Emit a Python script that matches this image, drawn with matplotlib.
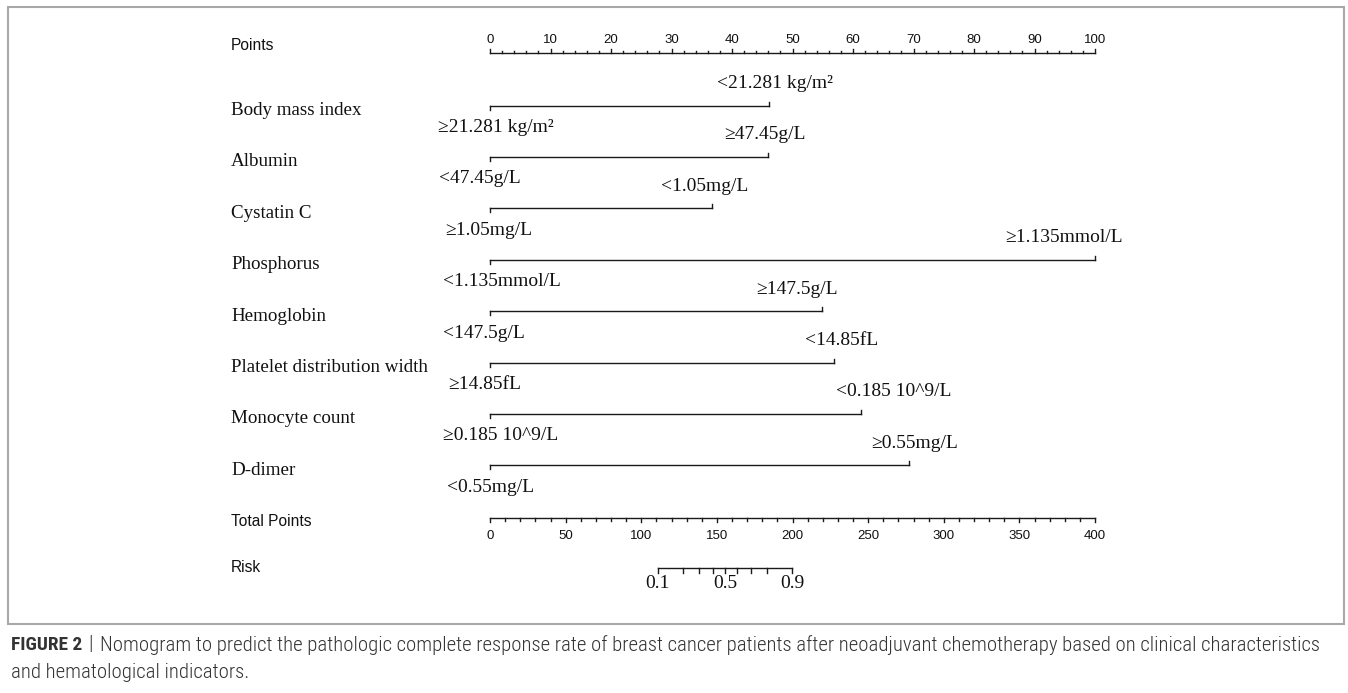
import numpy as np
import matplotlib
matplotlib.use("Agg")
import matplotlib.pyplot as plt
from matplotlib import font_manager
from matplotlib.patches import Rectangle

# nomogram content
variables = ["Body mass index", "Albumin", "Cystatin C", "Phosphorus", "Hemoglobin",
             "Platelet distribution width", "Monocyte count", "D-dimer"]
zero_labels = ["≥21.281 kg/m²", "<47.45g/L", "≥1.05mg/L", "<1.135mmol/L",
               "<147.5g/L", "≥14.85fL", "≥0.185 10^9/L", "<0.55mg/L"]
top_labels = ["<21.281 kg/m²", "≥47.45g/L", "<1.05mg/L", "≥1.135mmol/L",
              "≥147.5g/L", "<14.85fL", "<0.185 10^9/L", "≥0.55mg/L"]
top_points = [46.1, 45.9, 36.7, 100.0, 54.9, 56.9, 61.4, 69.3]

points_ticks = np.arange(0, 101, 10)
total_ticks = np.arange(0, 401, 50)
risk_ticks = [0.1, 0.2, 0.3, 0.4, 0.5, 0.6, 0.7, 0.8, 0.9]
risk_labels = ["0.1", "", "", "", "0.5", "", "", "", "0.9"]
# linear predictor: total points at risk 0.5 and total points per logit unit
risk_center_total = 155.4
total_per_logit = 20.24

caption_bold = "FIGURE 2"
caption_line1 = ("Nomogram to predict the pathologic complete response rate of breast cancer "
                 "patients after neoadjuvant chemotherapy based on clinical characteristics")
caption_line2 = "and hematological indicators."

# label placement tweaks (pixels), as the nomogram placed them
top_shift = [6, -3, -7, -31, -25, 7, 32, 5]
zero_left = [438, 439, 445, 443, 443, 448, 443, 447]

W, H = 1348, 693
x0_px, x100_px = 490, 1095
px_per_point = (x100_px - x0_px) / 100.0

serif = "Liberation Serif"
sans = "Liberation Sans"

# look for a condensed sans for the caption
narrow = sans
names = set(font_manager.get_font_names())
for cand in ["Liberation Sans Narrow", "Roboto Condensed", "DejaVu Sans Condensed",
             "Open Sans Condensed", "Noto Sans Condensed"]:
    if cand in names:
        narrow = cand
        break

fig = plt.figure(figsize=(W / 100, H / 100), dpi=100)
ax = fig.add_axes([0, 0, 1, 1])
ax.set_xlim(-x0_px / px_per_point, (W - x0_px) / px_per_point)
ax.set_ylim(H, 0)
ax.axis("off")

lc = "#1a1a1a"
lw = 1.0
tc = "#111111"


def px(n):
    # pixel offset -> points units
    return n / px_per_point


name_x = px(231 - x0_px)

# Points axis
y_pts = 53
ax.plot([0, 100], [y_pts, y_pts], color=lc, lw=lw)
for v in np.arange(0, 101, 2):
    ln = 4.5 if v % 10 == 0 else 2.5
    ax.plot([v, v], [y_pts, y_pts - ln], color=lc, lw=lw)
for v in points_ticks:
    ax.text(v, 40, str(v), ha="center", va="center", fontsize=9.5, family=sans, color=tc)
ax.text(name_x, 46, "Points", ha="left", va="center", fontsize=11.2, family=sans, color=tc)

# variable rows
row0, row_step = 105.5, 51.4
for i, name in enumerate(variables):
    y = row0 + i * row_step
    ax.plot([0, top_points[i]], [y, y], color=lc, lw=lw)
    ax.plot([0, 0], [y, y + 4], color=lc, lw=lw)
    ax.plot([top_points[i], top_points[i]], [y, y - 4], color=lc, lw=lw)
    ax.text(name_x, y + 5, name, ha="left", va="center", fontsize=13.7, family=serif, color=tc)
    ax.text(top_points[i] + px(top_shift[i]), y - 22, top_labels[i], ha="center", va="center",
            fontsize=14, family=serif, color=tc)
    ax.text(px(zero_left[i] - x0_px), y + 22, zero_labels[i], ha="left", va="center",
            fontsize=14, family=serif, color=tc)

# Total points axis (plotted on the points scale, 400 total = 100 points)
y_tot = 518
ax.plot([0, 100], [y_tot, y_tot], color=lc, lw=lw)
for v in np.arange(0, 401, 10):
    ln = 3.5 if v % 50 == 0 else 2.5
    ax.plot([v / 4, v / 4], [y_tot, y_tot + ln], color=lc, lw=lw)
for v in total_ticks:
    ax.text(v / 4, 536, str(v), ha="center", va="center", fontsize=9.5, family=sans, color=tc)
ax.text(name_x, 521, "Total Points", ha="left", va="center", fontsize=11.2, family=sans, color=tc)

# Risk axis
y_risk = 568
risk_tot = [risk_center_total + np.log(p / (1 - p)) * total_per_logit for p in risk_ticks]
ax.plot([risk_tot[0] / 4, risk_tot[-1] / 4], [y_risk, y_risk], color=lc, lw=lw)
for t, lab in zip(risk_tot, risk_labels):
    ax.plot([t / 4, t / 4], [y_risk, y_risk + 5], color=lc, lw=lw)
    if lab:
        ax.text(t / 4, 583, lab, ha="center", va="center", fontsize=14, family=serif, color=tc)
ax.text(name_x, 567, "Risk", ha="left", va="center", fontsize=11.2, family=sans, color=tc)

# frame around the figure image
fig.patches.append(Rectangle((8 / W, 1 - 624 / H), (1344 - 8) / W, (624 - 7) / H,
                             transform=fig.transFigure, fill=False,
                             edgecolor="#a8a8a8", lw=1.5))

# caption, sized so the first line spans the same width as in the original
cc = "#333333"
r = fig.canvas.get_renderer()
t1 = fig.text(100 / W, 1 - 645 / H, caption_line1, ha="left", va="center", fontsize=11,
              family=narrow, weight="light", color=cc)
fs = 11 * 1215 / t1.get_window_extent(r).width
t1.set_fontsize(fs)
fig.text(11 / W, 1 - 673 / H, caption_line2, ha="left", va="center", fontsize=fs,
         family=narrow, weight="light", color=cc)
tb = fig.text(11 / W, 1 - 645 / H, caption_bold, ha="left", va="center", fontsize=fs,
              family=narrow, weight="bold", color=cc)
bw = tb.get_window_extent(r).width
if bw > 72:
    tb.set_fontsize(fs * 72 / bw)
fig.text(88 / W, 1 - 645 / H, "|", ha="left", va="center", fontsize=fs,
         family=narrow, weight="light", color=cc)

fig.savefig("out.png", dpi=100)
